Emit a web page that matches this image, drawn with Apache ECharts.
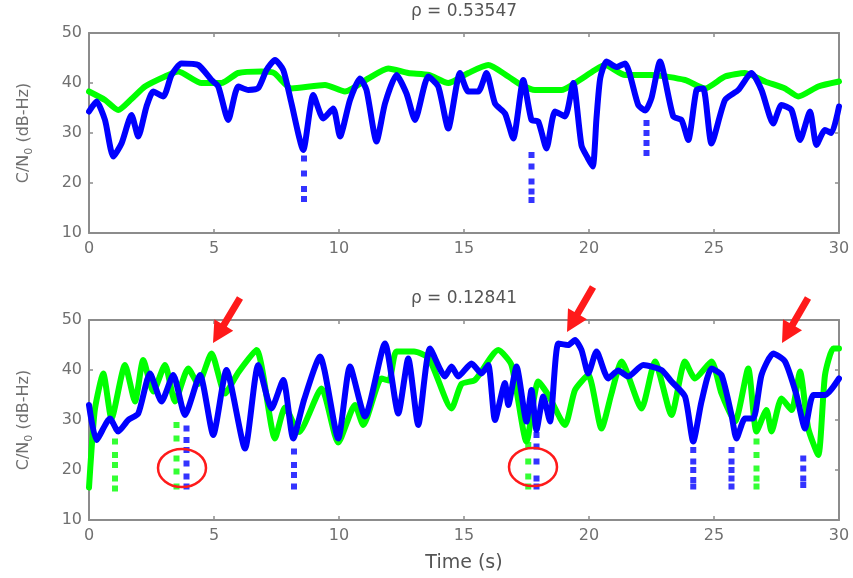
<!DOCTYPE html>
<html>
<head>
<meta charset="utf-8">
<script src="https://cdn.jsdelivr.net/npm/echarts@6/dist/echarts.min.js"></script>
<style>
html, body { margin: 0; padding: 0; background: #fff; }
#chart { width: 853px; height: 578px; }
</style>
</head>
<body>
<div id="chart"></div>
<script>
// Axis ticks and titles
const xTicks = [0, 5, 10, 15, 20, 25, 30];
const yTicks = [10, 20, 30, 40, 50];
const panelTitles = ['ρ = 0.53547', 'ρ = 0.12841'];

// Upper panel: C/N0 traces [time s, dB-Hz]
const topGreen = [[0,38.3],[0.64,36.6],[1.17,34.6],[1.7,36.8],[2.24,39.3],[3.04,41.3],[3.57,42.3],[4.5,40],[5.3,40],[5.97,42],[6.9,42.3],[7.4,42],[8.1,38.9],[9.44,39.6],[10.24,38.3],[11.17,40.9],[11.97,42.9],[12.77,42],[13.6,41.6],[14.37,40],[15.17,42],[15.97,43.6],[16.77,41.3],[17.3,39.6],[17.84,38.6],[18.9,38.6],[19.44,40],[20.24,42.6],[20.64,43.6],[21.44,41.6],[22.5,41.6],[23.84,40.6],[24.64,38.9],[25.44,41.3],[26.24,42],[27.04,40.3],[27.84,38.9],[28.37,37.3],[29.17,39.3],[30,40.3]];
const topBlue = [[0,34.3],[0.3,36.3],[0.64,32.6],[0.97,25.3],[1.3,27.9],[1.7,33.6],[1.97,29.3],[2.3,35.3],[2.57,38.3],[2.97,37.3],[3.3,41.6],[3.7,43.9],[4.37,43.6],[4.9,40.6],[5.17,39.3],[5.57,32.6],[5.97,39.3],[6.37,38.6],[6.77,39],[7.1,42.6],[7.44,44.6],[7.77,42.6],[8.1,35.9],[8.57,26.6],[8.97,37.6],[9.37,32.9],[9.77,34.9],[10.04,29.3],[10.44,36.6],[10.84,40.9],[11.1,38.6],[11.5,28.3],[11.84,35.9],[12.3,41.6],[12.7,37.9],[13.04,32.6],[13.57,41.3],[13.97,39.3],[14.37,30.9],[14.84,42],[15.17,38.3],[15.57,38.3],[15.9,42],[16.24,35.9],[16.64,33.9],[16.97,28.9],[17.37,40.6],[17.7,32.6],[17.97,32.3],[18.3,26.9],[18.64,34.3],[19.04,33.3],[19.37,40],[19.7,27.5],[19.95,25],[20.15,23.3],[20.3,33],[20.45,41],[20.7,44.3],[21.1,43.2],[21.44,43.9],[21.97,35.6],[22.25,34.5],[22.5,37],[22.84,44.3],[23.37,33.3],[23.7,32.6],[23.97,28.6],[24.3,38.6],[24.57,38.9],[24.9,27.9],[25.44,36.6],[25.97,38.6],[26.5,42],[26.9,38.6],[27.37,31.9],[27.7,35.6],[28.1,34.6],[28.44,28.6],[28.84,34.3],[29.1,27.6],[29.44,30.6],[29.7,30],[30,35.3]];
const topBlueDrops = [[8.6,24.9],[8.6,21.9],[8.6,18.8],[8.6,16.8],[17.7,25.6],[17.7,23.3],[17.7,20.3],[17.7,18.3],[17.7,16.6],[22.3,32],[22.3,30],[22.3,28],[22.3,26]];

// Lower panel: C/N0 traces [time s, dB-Hz]
const bottomGreen = [[0,16.5],[0.1,24],[0.24,32.3],[0.57,39.3],[0.9,30.3],[1.44,41],[1.84,33.7],[2.17,42],[2.57,35.7],[3.04,41],[3.44,33.7],[3.97,40.3],[4.37,37.2],[4.9,43.3],[5.44,35.3],[5.97,39.5],[6.7,44],[7.44,26.3],[7.84,32.5],[8.4,27.6],[9.3,36.3],[9.97,25.5],[10.64,33],[10.97,29],[11.7,38.3],[12.0,37.9],[12.3,43.7],[13.0,43.7],[13.6,42.3],[14.5,32.3],[14.9,37.2],[15.44,38],[16.37,44],[16.9,41],[17.5,25.7],[17.97,37.7],[18.37,35],[19.04,29],[19.44,36],[19.97,39],[20.5,28.3],[20.9,35.3],[21.3,41.7],[22.1,32.3],[22.64,41.7],[23.3,31],[23.84,41.7],[24.24,38.3],[24.9,41.7],[25.3,35.3],[25.84,29.7],[26.37,40.3],[26.7,27.7],[27.1,32],[27.3,27.7],[27.7,34.3],[28.1,32],[28.44,39.7],[28.77,28.3],[29.17,23],[29.44,39],[29.77,44.3],[30,44.3]];
const bottomBlue = [[0,33],[0.3,26],[0.84,30.3],[1.17,27.7],[1.57,30],[1.97,31.3],[2.44,39.3],[2.9,33.7],[3.37,39],[3.84,31],[4.44,39],[4.97,27],[5.5,40],[6.24,24.3],[6.77,41],[7.3,32.3],[7.77,38],[8.17,26.3],[8.6,34],[9.24,42.7],[9.97,26.3],[10.44,40.7],[11.04,30.7],[11.84,45.3],[12.37,31.3],[12.77,42.3],[13.17,29],[13.64,44.3],[14.24,38.7],[14.5,40.7],[14.77,38.7],[15.3,41.3],[15.7,39.3],[15.97,41],[16.24,30],[16.64,37.4],[16.77,33],[17.1,40.7],[17.5,29.7],[17.7,36],[17.9,28],[18.17,34.7],[18.44,29.7],[18.77,45.3],[19.17,45],[19.44,46],[19.7,44],[19.97,39.3],[20.3,43.7],[20.77,38.3],[21.17,39.9],[21.57,38.7],[22.17,41],[22.9,40],[23.3,37.7],[23.84,34.7],[24.17,25.7],[24.5,33.7],[24.9,40.3],[25.3,39],[25.7,31],[25.9,26.3],[26.24,30.3],[26.57,30.3],[26.9,39],[27.37,43.3],[27.84,41.7],[28.3,35],[28.64,28.3],[28.97,35],[29.44,35],[30,38.3]];
const bottomGreenDrops = [[1.04,25.7],[1.04,23],[1.04,21],[1.04,18.3],[1.04,16.3],[3.5,29],[3.5,26.3],[3.5,22.3],[3.5,19.7],[3.5,16.7],[17.57,25],[17.57,21.7],[17.57,18.7],[17.57,16.7],[26.7,25.7],[26.7,23],[26.7,20.3],[26.7,18.3],[26.7,16.7]];
const bottomBlueDrops = [[3.9,28.3],[3.9,26],[3.9,24],[3.9,21.3],[3.9,18.7],[3.9,16.7],[8.2,23.7],[8.2,21],[8.2,19],[8.2,16.7],[17.9,27],[17.9,24.7],[17.9,21.7],[17.9,18.3],[17.9,16.7],[24.17,24],[24.17,21.7],[24.17,20],[24.17,18],[24.17,16.7],[25.7,24],[25.7,21.7],[25.7,20],[25.7,18.3],[25.7,16.7],[28.57,22.3],[28.57,20.3],[28.57,18.3],[28.57,17]];

// Lower panel callouts: arrow [tail, tip] and ringed samples [centre]
const arrowPairs = [[[6.04,54.4],[4.96,45.4]], [[20.16,56.6],[19.12,47.6]], [[28.76,54.4],[27.72,45.4]]];
const ringCentres = [[3.72,20.4],[17.76,20.6]];

const FONT = 'DejaVu Sans';
const AXIS_GREY = '#8c8c8c';
const TEXT_GREY = '#707070';
const GREEN = '#00ff00';
const BLUE = '#0000ff';

const chart = echarts.init(document.getElementById('chart'), null, { renderer: 'canvas' });

const grids = [
  { left: 89, top: 33, width: 750, height: 200 },
  { left: 89, top: 320, width: 750, height: 200 }
];

function xAx(gridIndex, pos, labels, name) {
  return {
    type: 'value', gridIndex, position: pos,
    min: xTicks[0], max: xTicks[xTicks.length - 1], interval: xTicks[1] - xTicks[0],
    axisLine: { show: true, onZero: false, lineStyle: { color: AXIS_GREY, width: 2 } },
    axisTick: { show: true, inside: true, length: 4, lineStyle: { color: AXIS_GREY, width: 1.5 } },
    axisLabel: { show: labels, margin: 8, color: TEXT_GREY, fontFamily: FONT, fontSize: 16 },
    splitLine: { show: false },
    name: name || '', nameLocation: 'middle', nameGap: 34,
    nameTextStyle: { color: '#555', fontFamily: FONT, fontSize: 19 }
  };
}
function yAx(gridIndex, pos, labels) {
  return {
    type: 'value', gridIndex, position: pos,
    min: yTicks[0], max: yTicks[yTicks.length - 1], interval: yTicks[1] - yTicks[0],
    axisLine: { show: true, onZero: false, lineStyle: { color: AXIS_GREY, width: 2 } },
    axisTick: { show: true, inside: true, length: 4, lineStyle: { color: AXIS_GREY, width: 1.5 } },
    axisLabel: { show: labels, margin: 7, color: TEXT_GREY, fontFamily: FONT, fontSize: 16 },
    splitLine: { show: false },
    name: labels ? '{m|C/N}{s|0}{m| (dB-Hz)}' : '',
    nameLocation: 'middle', nameRotate: 90, nameGap: 54,
    nameTextStyle: {
      color: TEXT_GREY, fontFamily: FONT, fontSize: 16,
      rich: {
        m: { color: TEXT_GREY, fontFamily: FONT, fontSize: 16, lineHeight: 22 },
        s: { color: TEXT_GREY, fontFamily: FONT, fontSize: 11, lineHeight: 12, verticalAlign: 'bottom' }
      }
    }
  };
}

function traceLine(data, color, xi, yi) {
  return {
    type: 'line', data, xAxisIndex: xi, yAxisIndex: yi,
    showSymbol: false, smooth: 0.2, z: color === BLUE ? 4 : 3,
    lineStyle: { color, width: 6, cap: 'round', join: 'round' },
    silent: true, animation: false
  };
}
function dropDots(data, color, xi, yi) {
  return {
    type: 'scatter', data, xAxisIndex: xi, yAxisIndex: yi,
    symbol: 'rect', symbolSize: 6, z: 5,
    itemStyle: { color }, silent: true, animation: false
  };
}

chart.setOption({
  animation: false,
  backgroundColor: '#fff',
  title: panelTitles.map((t, i) => ({
    text: t, left: 464, top: i === 0 ? 3 : 290, padding: 0, textAlign: 'center',
    textStyle: { color: '#555', fontFamily: FONT, fontSize: 17, fontWeight: 'normal' }
  })),
  grid: grids,
  xAxis: [xAx(0, 'bottom', true), xAx(0, 'top', false), xAx(1, 'bottom', true, 'Time (s)'), xAx(1, 'top', false)],
  yAxis: [yAx(0, 'left', true), yAx(0, 'right', false), yAx(1, 'left', true), yAx(1, 'right', false)],
  series: [
    traceLine(topGreen, GREEN, 0, 0),
    traceLine(topBlue, BLUE, 0, 0),
    dropDots(topBlueDrops, BLUE, 0, 0),
    traceLine(bottomGreen, GREEN, 2, 2),
    traceLine(bottomBlue, BLUE, 2, 2),
    dropDots(bottomGreenDrops, GREEN, 2, 2),
    dropDots(bottomBlueDrops, BLUE, 2, 2)
  ]
});

// Callout shapes placed through the lower panel's coordinate system
function toPx(p) { return chart.convertToPixel({ gridIndex: 1 }, p); }
function arrowShape(tail, tip) {
  const dx = tip[0] - tail[0], dy = tip[1] - tail[1];
  const len = Math.hypot(dx, dy);
  const ux = dx / len, uy = dy / len, nx = -uy, ny = ux;
  const headLen = 21, headHalf = 11, shaftHalf = 3.5;
  const bx = tip[0] - ux * headLen, by = tip[1] - uy * headLen;
  return [
    [tail[0] + nx * shaftHalf, tail[1] + ny * shaftHalf],
    [bx + nx * shaftHalf, by + ny * shaftHalf],
    [bx + nx * headHalf, by + ny * headHalf],
    [tip[0], tip[1]],
    [bx - nx * headHalf, by - ny * headHalf],
    [bx - nx * shaftHalf, by - ny * shaftHalf],
    [tail[0] - nx * shaftHalf, tail[1] - ny * shaftHalf]
  ];
}
const callouts = [];
arrowPairs.forEach(pair => {
  callouts.push({
    type: 'polygon', z: 20, silent: true,
    shape: { points: arrowShape(toPx(pair[0]), toPx(pair[1])) },
    style: { fill: '#ff1a1a' }
  });
});
ringCentres.forEach(c => {
  const p = toPx(c);
  callouts.push({
    type: 'ellipse', z: 20, silent: true,
    shape: { cx: p[0], cy: p[1], rx: 24, ry: 19 },
    style: { fill: 'none', stroke: '#ff1a1a', lineWidth: 2.5 }
  });
});
chart.setOption({ graphic: callouts });
</script>
</body>
</html>
